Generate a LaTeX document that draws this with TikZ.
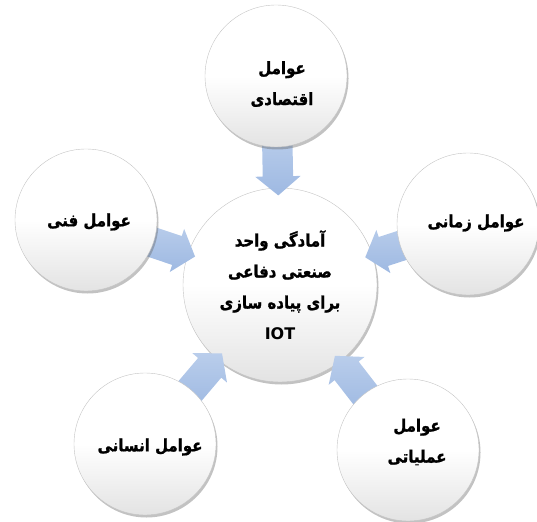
\documentclass[tikz,border=0pt]{standalone}
\usepackage{fontspec}
\usetikzlibrary{shapes.arrows,shadows,calc}
\newfontfamily\fa[Script=Arabic, FakeStretch=0.88, FakeBold=1.2]{DejaVu Sans}
\newfontfamily\latn{DejaVu Sans}
\TeXXeTstate=1
\definecolor{arrA}{HTML}{B9CDEB}
\definecolor{arrB}{HTML}{9EB9E2}
\definecolor{rim}{HTML}{C4C4C4}
\tikzset{
  ball/.style={circle, inner sep=0pt, top color=white, bottom color=black!11, middle color=white,
    draw=rim, line width=0.4pt,
    drop shadow={shadow xshift=1.5pt, shadow yshift=-2.5pt, opacity=0.4, fill=black!60}},
  outerball/.style={ball, minimum size=142pt},
  hub/.style={ball, minimum size=194pt},
  lbl/.style={font=\fa\bfseries\fontsize{17}{31}\selectfont, align=center, text=black},
  blockarrow/.style={single arrow, draw=none, top color=arrA, bottom color=arrB,
    minimum height=60pt, minimum width=45pt, inner xsep=0pt, inner ysep=15pt,
    single arrow head extend=7.5pt, single arrow tip angle=100,
    sloped, allow upside down, midway}
}
\begin{document}
\begin{tikzpicture}[x=1pt,y=-1pt]
\useasboundingbox (0,0) rectangle (537,521);
% centres of the outer circles
\coordinate (ptop) at (276,76);
\coordinate (pleft) at (86,220);
\coordinate (pright) at (468,224);
\coordinate (pbl) at (145,444);
\coordinate (pbr) at (408,450);
% hub
\node[hub, lbl] (ctr) at (280,285) {\beginR آمادگی واحد\endR\\\beginR صنعتی دفاعی\endR\\\beginR برای پیاده سازی\endR\\{\latn\bfseries\fontsize{16}{31}\selectfont IOT}};
% arrows
\path ($(ctr.center)!156pt!(ptop)$) -- ($(ctr.center)!96pt!(ptop)$) node[blockarrow] (atop) {};
\path ($(ctr.center)!156pt!(pleft)$) -- ($(ctr.center)!96pt!(pleft)$) node[blockarrow] (aleft) {};
\path ($(ctr.center)!156pt!(pright)$) -- ($(ctr.center)!96pt!(pright)$) node[blockarrow] (aright) {};
\path ($(ctr.center)!156pt!(pbl)$) -- ($(ctr.center)!96pt!(pbl)$) node[blockarrow] (abl) {};
\path ($(ctr.center)!156pt!(pbr)$) -- ($(ctr.center)!96pt!(pbr)$) node[blockarrow] (abr) {};
% outer circles
\node[outerball] (top) at (ptop) {};
\node[outerball] (left) at (pleft) {};
\node[outerball] (right) at (pright) {};
\node[outerball] (bl) at (pbl) {};
\node[outerball] (br) at (pbr) {};
% labels
\node[lbl] (ttop) at (282,84) {\beginR عوامل\endR\\\beginR اقتصادی\endR};
\node[lbl] (tleft) at (89,222) {\beginR عوامل فنی\endR};
\node[lbl] (tright) at (476,223) {\beginR عوامل زمانی\endR};
\node[lbl] (tbl) at (150,447) {\beginR عوامل انسانی\endR};
\node[lbl] (tbr) at (417,442) {\beginR عوامل\endR\\\beginR عملیاتی\endR};
\end{tikzpicture}
\end{document}
